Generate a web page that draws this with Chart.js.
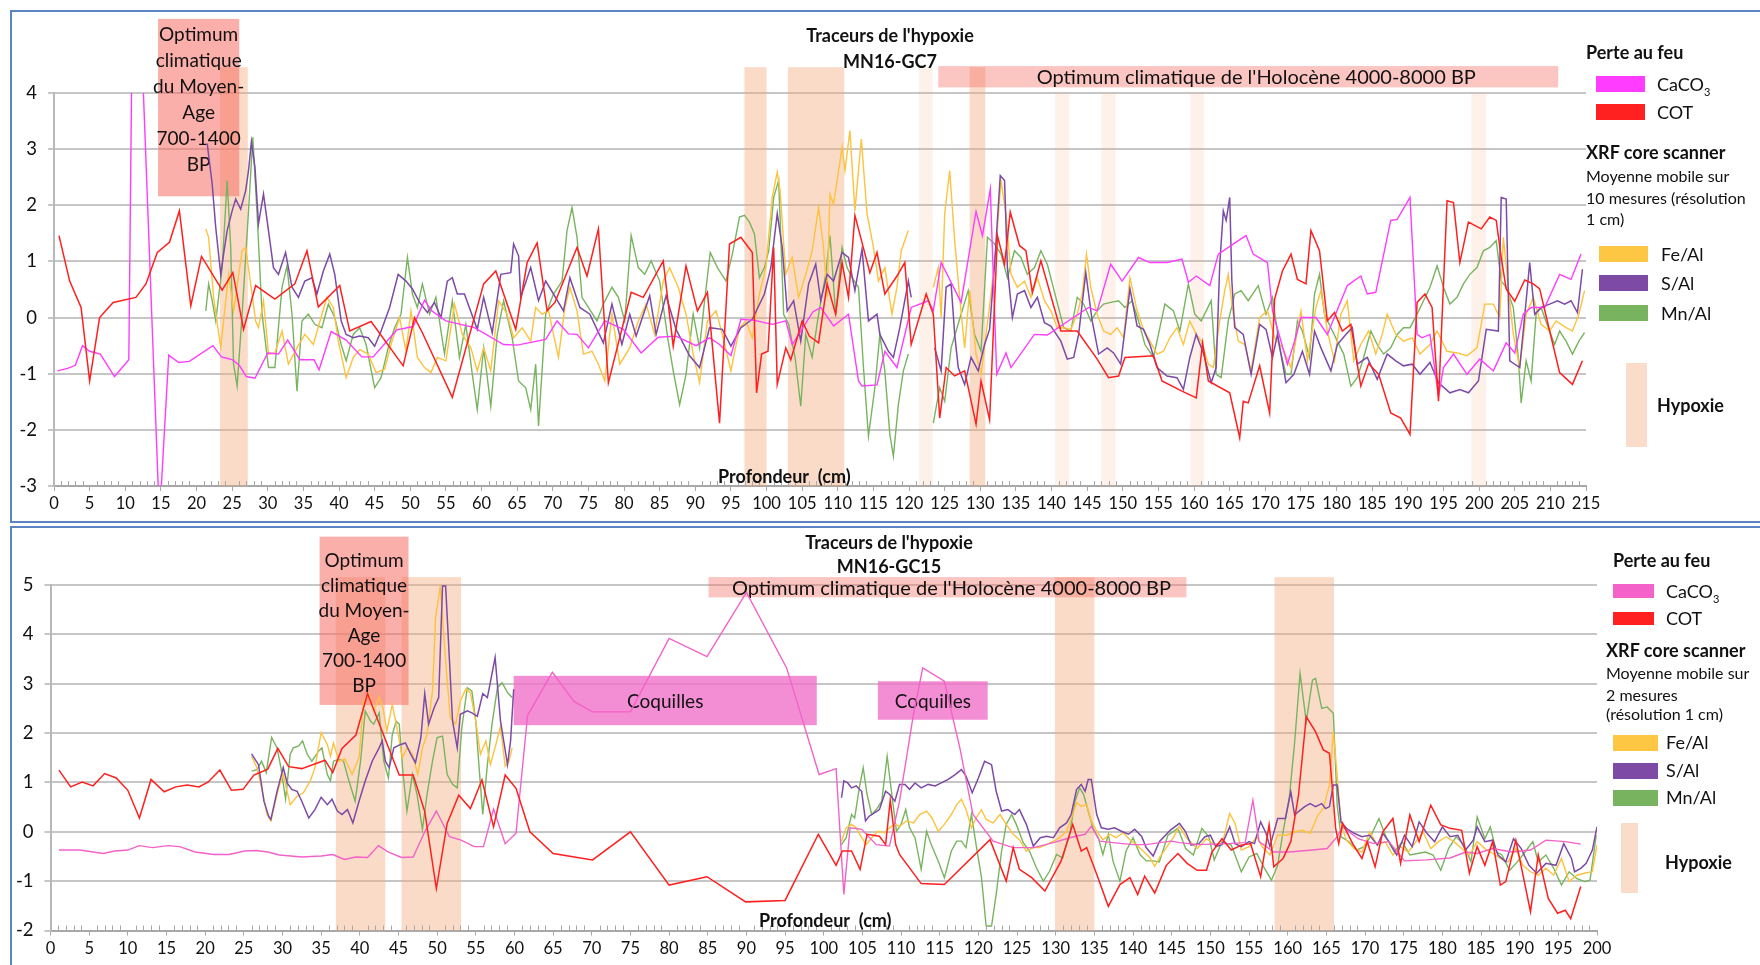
<!DOCTYPE html>
<html>
<head>
<meta charset="utf-8">
<script src="https://cdn.jsdelivr.net/npm/chart.js@4.4.1/dist/chart.umd.min.js"></script>
<style>
body{margin:0;width:1760px;height:965px;position:relative;background:#fff;font-family:Lato,'Open Sans',sans-serif;color:#111;overflow:hidden}
canvas{position:absolute;left:0}
.frame{position:absolute;border:2px solid #5a85c2;box-sizing:border-box;pointer-events:none}
.lg{position:absolute;white-space:nowrap;line-height:1;font-size:18px}
.sm{font-size:16px}
.b{font-weight:bold}
.sw{position:absolute}
sub{font-size:11px;line-height:0}
</style>
</head>
<body>
<canvas id="c1" width="1760" height="523" style="top:0"></canvas>
<canvas id="c2" width="1760" height="442" style="top:523px"></canvas>
<div class="frame" style="left:10px;top:10px;width:1760px;height:513px"></div>
<div class="frame" style="left:10px;top:526px;width:1760px;height:445px"></div>

<!-- legend GC7 -->
<div class="lg b" style="left:1586px;top:43px">Perte au feu</div>
<div class="sw" style="left:1596px;top:76px;width:49px;height:16px;background:#ff3cff"></div>
<div class="lg" style="left:1657px;top:75px">CaCO<sub>3</sub></div>
<div class="sw" style="left:1596px;top:104px;width:49px;height:16px;background:#ff2020"></div>
<div class="lg" style="left:1657px;top:103px">COT</div>
<div class="lg b" style="left:1586px;top:143px">XRF core scanner</div>
<div class="lg sm" style="left:1586px;top:168px">Moyenne mobile sur</div>
<div class="lg sm" style="left:1586px;top:190px">10 mesures (résolution</div>
<div class="lg sm" style="left:1586px;top:211px">1 cm)</div>
<div class="sw" style="left:1599px;top:246px;width:49px;height:16px;background:#fdc744"></div>
<div class="lg" style="left:1661px;top:245px">Fe/Al</div>
<div class="sw" style="left:1599px;top:275px;width:49px;height:16px;background:#7d4aa6"></div>
<div class="lg" style="left:1661px;top:274px">S/Al</div>
<div class="sw" style="left:1599px;top:305px;width:49px;height:16px;background:#78b45f"></div>
<div class="lg" style="left:1661px;top:304px">Mn/Al</div>
<div class="sw" style="left:1626px;top:363px;width:21px;height:84px;background:#fbdccb"></div>
<div class="lg b" style="left:1657px;top:396px">Hypoxie</div>

<!-- legend GC15 -->
<div class="lg b" style="left:1613px;top:551px">Perte au feu</div>
<div class="sw" style="left:1613px;top:584px;width:41px;height:14px;background:#f462c9"></div>
<div class="lg" style="left:1666px;top:582px">CaCO<sub>3</sub></div>
<div class="sw" style="left:1613px;top:612px;width:41px;height:13px;background:#ff2020"></div>
<div class="lg" style="left:1666px;top:609px">COT</div>
<div class="lg b" style="left:1606px;top:641px">XRF core scanner</div>
<div class="lg sm" style="left:1606px;top:665px">Moyenne mobile sur</div>
<div class="lg sm" style="left:1606px;top:687px">2 mesures</div>
<div class="lg sm" style="left:1606px;top:706px">(résolution 1 cm)</div>
<div class="sw" style="left:1613px;top:735px;width:45px;height:16px;background:#fdc744"></div>
<div class="lg" style="left:1666px;top:733px">Fe/Al</div>
<div class="sw" style="left:1613px;top:763px;width:45px;height:16px;background:#7d4aa6"></div>
<div class="lg" style="left:1666px;top:761px">S/Al</div>
<div class="sw" style="left:1613px;top:790px;width:45px;height:16px;background:#78b45f"></div>
<div class="lg" style="left:1666px;top:788px">Mn/Al</div>
<div class="sw" style="left:1621px;top:823px;width:17px;height:70px;background:#fbdccb"></div>
<div class="lg b" style="left:1665px;top:853px">Hypoxie</div>

<script>
// ---------- MN16-GC7 : [profondeur cm, valeur] ----------
const caco3Top = [[0.5,-0.95],[2,-0.9],[3,-0.85],[4,-0.5],[5,-0.6],[6.5,-0.65],[8.5,-1.05],[10.5,-0.75],[11.2,8],[12.4,4.5],[14.8,-3.6],[16.1,-0.67],[17.5,-0.8],[19,-0.78],[22.3,-0.5],[23.5,-0.7],[25,-0.75],[26,-0.85],[27,-1.05],[28.2,-1.08],[30,-0.63],[31.5,-0.65],[32.8,-0.4],[34.5,-0.75],[36.5,-0.75],[37.2,-0.93],[38.9,-0.25],[41,-0.4],[43.2,-0.7],[44.8,-0.7],[48.1,-0.22],[50.4,-0.16],[52,0.31],[53,0.12],[55,-0.06],[59,-0.18],[63.1,-0.48],[65,-0.49],[69,-0.39],[70.6,-0.06],[72.2,-0.29],[73.4,-0.3],[75,-0.54],[77.3,-0.06],[79.9,-0.21],[82.4,-0.63],[84.8,-0.35],[87.3,-0.33],[90.1,-0.5],[92,-0.36],[93.4,-0.48],[95,-0.68],[96.4,-0.03],[98.3,-0.05],[100.8,-0.12],[102.7,-0.06],[103.6,-0.48],[106.5,0.1],[107.6,0.18],[109.4,-0.15],[111.5,0.06],[112.9,-1.13],[113.4,-1.22],[115.5,-1.2],[116.6,-0.6],[118.3,-0.89],[120.3,0.18],[122.7,0.3],[123.4,0.12],[124.5,0.98],[127.3,0.27],[129.4,1.89],[130.3,1.46],[131.4,2.29],[132.3,-1.01],[133.6,-0.63],[134.3,-0.89],[137.6,-0.3],[139.4,-0.31],[142.7,-0.03],[145.2,0.18],[146.4,0.12],[148.3,0.95],[149.9,0.65],[152.2,1.07],[153.8,0.98],[156.2,0.98],[158.3,1.04],[159.2,0.63],[160.3,0.74],[162.2,0.57],[163.4,1.13],[166.2,1.37],[167.3,1.46],[168.3,1.13],[170.3,0.98],[171,0.12],[173.1,-0.83],[174.1,-0.42],[175,0],[177.1,0],[178.7,-0.3],[181.5,0.57],[183.4,0.74],[184.3,0.42],[185.5,0.45],[187.6,1.73],[188.5,1.75],[190.3,2.14],[191.3,-0.3],[192,-0.36],[193.1,-0.3],[194.3,-1.4],[195,-0.89],[196.4,-0.65],[198.3,-1.01],[200.1,-0.74],[202,-0.95],[203.8,-0.45],[205,-0.63],[206.2,0.06],[207.3,0.18],[209.2,0.18],[211.3,0.77],[212.9,0.68],[214.3,1.13]];
const cotTop = [[0.7,1.46],[2.2,0.65],[3.8,0.18],[5,-1.13],[6.4,0],[8.3,0.27],[11.5,0.36],[12.9,0.6],[14.5,1.16],[16.2,1.34],[17.6,1.9],[19.2,0.21],[20.7,1.09],[23.6,0.49],[25.1,0.8],[26.6,-0.21],[28.3,0.57],[31,0.33],[33.8,0.6],[35.5,1.19],[37.1,0.19],[40.1,0.57],[41.5,-0.24],[44.5,-0.07],[49,-0.86],[50.6,0],[51.7,-0.27],[55.9,-1.42],[60.3,0.6],[62,0.83],[64.8,-0.21],[66.4,0.98],[67.8,1.33],[69.2,0.12],[70.3,0.27],[73.4,1.25],[74.8,0.74],[76.4,1.58],[77.8,-1.16],[81,0.45],[82.7,0.36],[85.5,1.01],[86.9,-0.51],[88.7,0.92],[90.3,0.12],[91.7,0.45],[93.4,-1.88],[94.8,1.31],[96.4,1.43],[98,1.16],[98.6,-1.34],[99.3,-0.65],[100.2,-0.6],[101,1.25],[101.5,-1.19],[102.7,-0.54],[103.4,-0.75],[105,-0.06],[106,-0.33],[107.3,-0.45],[108.5,0.6],[109.7,0.06],[110.6,0.98],[111.5,0.36],[112.4,1.82],[114.5,0.8],[115.5,1.16],[116.6,0.42],[118.3,0.74],[119.4,0.98],[120.3,-0.48],[122.4,0.42],[123.4,0.06],[124.3,-1.79],[125.2,-0.89],[126.4,-1.04],[127.8,-0.95],[129.4,-1.9],[130.1,-1.13],[131.3,-1.82],[132.4,1.46],[133.4,0.95],[134.2,1.88],[135.5,1.28],[136.4,1.19],[137.3,0.45],[138.5,1.01],[141.3,-0.24],[143.6,-0.24],[146.4,-0.74],[148,-1.07],[149.4,-1.04],[150.3,-0.71],[154.3,-0.68],[155.5,-1.13],[158.3,-1.31],[160.3,-1.43],[161.2,-0.45],[162,-1.13],[165,-1.34],[166.4,-2.14],[166.9,-1.49],[167.6,-1.52],[169.2,-0.86],[170.6,-1.7],[171.3,0.33],[172.4,0.83],[173.6,1.13],[174.5,0.68],[175.7,0.6],[176.4,1.55],[177.6,1.19],[178.7,-0.06],[179.7,0.09],[180.8,-0.24],[182,-0.12],[183.4,-1.22],[184.5,-0.82],[185.9,-1.01],[187.6,-1.7],[189,-1.79],[190.3,-2.08],[191.3,0.27],[192.4,0.42],[193.4,0.18],[194.3,-1.49],[195.5,2.08],[196.4,2.05],[197.3,0.98],[198.5,1.7],[200.3,1.58],[201.5,1.79],[202.4,1.73],[203.1,1.07],[203.8,0.51],[205,0.29],[206.4,0.67],[207.6,0.6],[208.5,0.51],[209.9,-0.24],[211.3,-0.98],[213.1,-1.19],[214.5,-0.77]];
const feTop = [[21.3,1.58],[21.7,1.43],[22.4,0.36],[23.4,-0.54],[24.5,0.77],[25.2,0.12],[26.4,1.19],[26.9,1.25],[27.6,0.6],[28.3,-0.06],[28.7,-0.18],[29.4,0.3],[30.1,-0.65],[31,-0.63],[32,-0.24],[32.9,-0.83],[34.1,-0.54],[35.2,-0.3],[36.4,-0.48],[37.6,0.06],[38.3,0.36],[39.2,0.18],[39.9,-0.42],[41,-1.07],[42,-0.71],[42.9,-0.57],[44.1,-0.65],[45.2,-0.98],[46.4,-0.92],[47.3,-0.48],[48.5,0],[49.4,-0.6],[50.1,0.12],[51,-0.71],[52,-0.89],[52.9,-0.98],[53.8,-0.71],[55,-0.77],[56.2,0.24],[57.3,-0.3],[58.5,-0.54],[59.4,-0.95],[60.3,-0.54],[61.3,-0.95],[62.4,0.3],[63.6,0.06],[64.5,-0.36],[65.7,-0.18],[66.9,-0.42],[67.6,0.18],[68.5,0.06],[69.4,0.12],[70.8,-0.71],[71.7,0.18],[72.4,0.54],[73.4,0.12],[74.3,-0.65],[75.5,-0.6],[76.4,-0.83],[77.3,-1.13],[78.3,0.06],[79.4,-0.83],[80.8,-0.54],[82,-0.06],[83.1,0.24],[84.3,-0.3],[85.5,0.65],[86.4,0.89],[87.6,0.54],[88.7,0.06],[89.7,-0.65],[90.6,-1.16],[91.7,-0.06],[92.9,0.12],[93.8,-0.3],[95,-0.95],[96.2,-0.18],[97.1,-0.06],[98,-0.36],[99,0.42],[99.9,0.89],[100.8,2.14],[101.5,2.59],[101.9,2.26],[102.7,0.77],[103.6,1.07],[104.5,0.36],[105.5,0.77],[106.4,1.19],[107.3,1.96],[108,1.25],[108.5,0.36],[108.9,2.2],[109.4,2.02],[110.6,3.04],[111,2.62],[111.7,3.33],[112.4,1.9],[113.3,3.18],[114.1,1.85],[115,1.25],[115.7,0.65],[116.6,0.89],[117.6,0.06],[118.3,0.54],[118.9,1.19],[119.9,1.55],[121.5,null],[123.4,0.54],[124.1,0.89],[124.5,0],[125,1.85],[125.7,2.62],[126.4,1.37],[127.1,0.36],[127.8,-0.54],[128.5,0.48],[129.4,-0.65],[130.1,-1.01],[130.8,-0.3],[131.5,0.42],[132.2,1.25],[132.9,2.44],[133.6,1.85],[134.3,0.77],[135.2,0.54],[136.2,0.65],[137.1,0.36],[138,0.71],[139,0.3],[139.9,0.12],[140.8,-0.18],[141.7,-0.18],[142.7,-0.21],[143.6,0.06],[144.3,0.42],[144.9,1.13],[145.5,0.54],[146.4,0.06],[147.3,-0.24],[148.3,-0.3],[149.2,-0.18],[150.1,-0.36],[151,0.71],[152,0.12],[152.9,-0.21],[153.8,-0.42],[154.8,-0.65],[155.7,-0.6],[156.6,-0.36],[157.6,-0.18],[158.5,-0.48],[159.4,-0.06],[160.3,-0.3],[161,-0.42],[162,-0.83],[162.7,-0.89],[163.6,-0.06],[164.3,0.48],[164.8,0.77],[165.5,0.06],[166.2,-0.42],[167.1,-0.48],[168,-0.95],[169.2,0],[170.3,0.12],[171.3,-0.36],[172.4,-0.54],[173.6,-0.89],[175,0.12],[175.9,-0.77],[177.1,0.18],[177.8,0.48],[178.7,-0.24],[179.7,-0.77],[180.6,0.06],[181.5,0.3],[182.4,-0.77],[183.4,-0.48],[184.5,-0.24],[185.5,-0.65],[186.4,-0.3],[187.1,0.06],[188.3,-0.3],[189.4,-0.42],[190.6,-0.36],[191.7,-0.65],[193.1,-0.48],[194.1,-0.24],[195.5,-0.6],[196.9,-0.63],[198.3,-0.68],[199.7,-0.54],[200.8,0.24],[202,0.24],[202.9,0],[203.4,1.43],[204.1,0.54],[204.8,-0.3],[205.7,-0.89],[206.6,0.06],[207.6,0.36],[208.7,-0.12],[209.9,-0.24],[210.8,-0.06],[212.2,-0.18],[213.1,-0.24],[214,0.06],[214.8,0.48]];
const sTop = [[21.5,3.1],[22.2,2.38],[22.7,1.6],[23.4,0.77],[23.8,1.13],[24.3,1.55],[25,1.9],[25.5,2.11],[26.2,1.93],[26.9,2.26],[27.3,2.62],[27.7,3.13],[28.2,2.68],[28.7,1.67],[29.4,2.2],[30.1,1.55],[30.8,0.89],[31.5,0.77],[32.5,1.16],[33.4,0.54],[34.3,0.36],[35.2,0.65],[36.2,0.71],[36.9,0.42],[37.8,0.83],[38.7,1.13],[39.4,0.77],[40.3,-0.06],[41,-0.3],[42,-0.36],[42.9,-0.33],[44.1,-0.36],[45,-0.51],[45.9,-0.24],[47.1,0.18],[48.3,0.77],[49.4,0.65],[50.3,0.51],[51.3,0.27],[52.4,0.09],[53.4,0.27],[54.3,0],[55.2,0.65],[55.9,0.71],[56.6,0.42],[57.6,0.42],[59.4,-0.21],[60.3,0.36],[61.5,-0.27],[62.7,0.77],[64.1,0.8],[64.5,1.31],[65.2,1.1],[65.5,0.36],[66.9,0.89],[68,0.3],[69,0.65],[70.1,0.42],[71.5,0.12],[72.4,0.71],[73.8,0.18],[75.2,0.06],[77.1,-0.45],[78.3,0.24],[79.7,-0.48],[80.8,0.06],[81.7,-0.33],[83.6,0.39],[84.5,-0.3],[85.9,0.39],[87.3,-0.21],[89.2,-0.68],[90.6,-0.89],[92,-0.18],[93.8,-0.21],[95,-0.51],[96.4,-0.18],[98,-0.03],[99.7,0.42],[100.6,0.89],[101.5,1.85],[102.2,1.25],[102.9,0.12],[103.8,0.3],[104.8,-0.42],[105.9,0.6],[106.9,0.95],[107.6,0.3],[108.5,0.77],[109.4,0.65],[110.6,1.16],[111.5,1.07],[112.4,0.48],[113.4,1.22],[114.3,-0.06],[115.5,0.06],[115.9,-0.3],[117.1,-0.6],[117.8,-0.71],[118.7,-0.18],[119.9,0.65],[120.3,0.36],[121.5,null],[123.6,-0.54],[124.5,-0.95],[125.2,0.54],[125.9,0.6],[126.4,-0.3],[126.9,-0.89],[127.8,-1.19],[128.7,-0.71],[129.7,-0.95],[130.6,-0.48],[131.3,-0.21],[132,0.95],[132.8,2.53],[133.4,2.44],[133.8,0.89],[134.5,0],[135.2,0.42],[136.2,0.48],[137.1,0.18],[138,0.36],[139,-0.09],[139.9,-0.15],[141.3,-0.42],[142.2,-0.74],[143.1,-0.71],[143.8,-0.3],[144.8,0.8],[145.7,-0.06],[146.6,-0.65],[147.8,-0.54],[148.7,-0.63],[149.7,-0.83],[151,0.51],[152,-0.15],[152.9,-0.21],[153.8,-0.48],[154.8,-0.89],[156.2,-1.04],[157.6,-1.07],[158.5,-1.28],[159.4,-0.71],[160.3,-0.3],[161.3,-0.63],[162.4,-1.16],[163.1,-0.89],[163.6,0.95],[164.1,1.9],[164.5,1.73],[165,2.14],[165.3,0.65],[165.7,-0.18],[166.9,-0.3],[168,-1.01],[169.2,-0.12],[170.1,-0.21],[171,-0.71],[171.7,-0.3],[172.9,-1.16],[174,-1.01],[175.2,-0.6],[176.2,-1.01],[176.9,-0.24],[177.8,-0.54],[179.2,-0.95],[180.1,-0.48],[181.3,-0.3],[182.2,-0.18],[182.9,-0.83],[184.3,-0.71],[185.7,-1.1],[187.1,-0.65],[188.3,-0.77],[189.4,-0.86],[190.6,-0.83],[191.7,-1.01],[193.1,-0.8],[194.3,-1.16],[195.9,-1.34],[197.3,-1.28],[198.5,-1.34],[199.9,-1.13],[201,-0.21],[202.7,-0.24],[203.1,2.14],[203.8,2.11],[204.3,-0.77],[205.7,-0.89],[206.6,0.3],[207.1,0.98],[207.8,0.06],[208.7,0.18],[209.9,0.24],[211,0.3],[212,0.24],[212.9,0.3],[213.8,0.09],[214.5,0.86]];
const mnTop = [[21.3,0.12],[21.7,0.6],[22.2,0.3],[22.7,-0.06],[23.6,0.89],[24.3,2.44],[24.8,1.25],[25.2,-0.83],[25.7,-1.22],[26.4,0.06],[27.3,1.9],[27.9,3.21],[28.5,1.85],[29.2,0.06],[30.1,-0.89],[31,-0.89],[32,0.54],[32.7,0.92],[33.4,0.06],[34.1,-1.31],[34.8,-0.06],[35.7,0.06],[36.6,-0.12],[37.6,-0.18],[38.5,0.24],[39.4,0],[40.3,-0.48],[41,-0.77],[42,-0.3],[42.9,-0.18],[43.8,-0.48],[45,-1.25],[45.9,-1.07],[46.9,-0.54],[47.8,-0.18],[48.7,0.06],[49.6,1.07],[50.3,0.42],[51,0.18],[51.7,0.6],[52.7,0.06],[53.6,0.36],[54.8,-0.65],[55.9,0.3],[56.9,-0.71],[57.8,-0.12],[58.7,-1.01],[59.4,-1.64],[60.3,-0.54],[61.3,-1.58],[62.2,-0.3],[63.1,0.3],[64.3,-0.36],[65.2,-1.13],[66.2,-1.25],[66.9,-1.64],[67.6,-0.83],[68,-1.93],[69,0.06],[70.1,0.42],[71.3,0.65],[72,1.55],[72.7,1.96],[73.4,1.43],[74.1,0.36],[75,0.18],[76.2,-0.06],[77.1,0.24],[78.3,0.54],[79.2,0.36],[80.1,-0.06],[81,1.46],[82,0.89],[82.9,0.77],[83.8,1.01],[85,0.65],[86.2,-0.42],[86.9,-0.95],[87.8,-1.55],[88.7,-1.01],[89.7,0.06],[90.6,-0.54],[91.3,0.3],[92.1,1.16],[93.1,0.89],[94.3,0.65],[95.2,1.13],[96.2,1.79],[96.9,1.82],[97.6,1.7],[98.3,1.49],[99,0.71],[99.7,0.89],[100.3,1.19],[101,2.14],[101.7,2.44],[102.4,0.06],[103.1,-0.12],[104,-0.71],[104.8,-1.58],[105.5,-0.3],[106.4,-0.71],[107.3,0.06],[108.3,0.77],[108.9,1.46],[109.7,0.06],[110.6,1.25],[111.3,0.89],[112,0.71],[112.9,0.54],[113.6,-0.89],[114.3,-2.11],[115.2,-1.25],[115.9,-0.3],[116.6,-0.95],[117.3,-2.08],[117.8,-2.47],[118.5,-1.55],[119.2,-0.95],[119.9,-0.65],[121.5,null],[123.4,-1.88],[124.3,-1.25],[125,-1.49],[125.9,-0.54],[126.6,-0.24],[127.3,0.06],[128.3,0.48],[129.2,-0.3],[130.1,-0.6],[131,1.43],[132,1.31],[132.9,1.13],[133.8,0.71],[134.8,1.19],[135.7,1.07],[136.6,0.77],[137.6,0.89],[138.5,1.19],[139.4,0.95],[140.6,0.36],[141.7,-0.18],[142.7,-0.24],[143.6,0.36],[144.5,0.24],[145.5,-0.06],[146.4,0.12],[147.3,0.24],[148.3,0.27],[149.4,0.3],[150.3,0.18],[151.3,0.3],[152.2,-0.06],[153.1,-0.48],[154.3,-0.71],[155.2,-0.18],[155.9,0.24],[157.1,0.12],[158,-0.24],[159.2,0.6],[160.1,0.06],[161,-0.06],[161.7,0.12],[162.4,0.3],[163.1,-1.01],[163.8,-1.07],[164.8,-0.06],[165.7,0.42],[166.6,0.48],[167.6,0.3],[169,0.57],[170.1,0.06],[171,0.36],[172,-0.54],[172.9,-1.01],[173.6,-1.01],[174.5,-0.06],[175.2,-0.24],[176.2,-0.71],[176.9,0.42],[177.6,0.77],[178.3,0.06],[179.2,-0.18],[180.1,-0.42],[181,-0.65],[182,-1.22],[182.9,-1.07],[183.8,-0.71],[184.8,-0.24],[185.7,-0.48],[186.6,-0.65],[187.6,-0.54],[188.5,-0.3],[189.4,-0.18],[190.3,-0.18],[191.3,0.06],[192.2,0.3],[193.1,0.54],[194.1,0.92],[195,0.54],[195.9,0.24],[196.9,0.36],[197.8,0.6],[198.7,0.77],[199.7,0.89],[200.6,1.19],[201.5,1.25],[202.4,1.37],[203.1,0.65],[203.8,0.54],[204.8,0.18],[205.5,-0.71],[205.9,-1.52],[206.6,-0.77],[207.3,-1.13],[208,0.06],[208.7,0.18],[209.7,-0.18],[210.6,-0.48],[211.3,-0.24],[212.2,-0.42],[213.1,-0.65],[214,-0.42],[214.8,-0.27]];

// ---------- MN16-GC15 ----------
const caco3Bot = [[1.1,-0.37],[3.8,-0.37],[6.8,-0.44],[8.3,-0.39],[10,-0.37],[11.5,-0.28],[13.2,-0.32],[15.2,-0.28],[16.7,-0.3],[18.7,-0.41],[21.1,-0.46],[23.1,-0.46],[25.1,-0.39],[26.6,-0.38],[28.1,-0.41],[29.6,-0.47],[32.5,-0.51],[35,-0.49],[36.5,-0.46],[38,-0.56],[39.5,-0.51],[41,-0.52],[42.4,-0.28],[43.7,-0.41],[45.4,-0.52],[46.9,-0.51],[48.4,0],[49.9,0.42],[51.6,-0.1],[53.1,-0.17],[54.8,-0.3],[56,-0.3],[57.3,0.46],[58.8,-0.24],[60.2,-0.03],[61.7,2.36],[64.9,3.23],[67.7,2.64],[70.1,2.43],[75,2.43],[80,3.92],[84.9,3.55],[90,4.85],[95.2,3.32],[99.4,1.16],[101.6,1.28],[102.6,-1.27],[103.4,0.08],[104.9,0.05],[106.8,-0.26],[108.5,-0.29],[109.8,0.62],[111.6,2.38],[112.8,3.32],[115.6,3.05],[117.6,1.7],[119.3,0.35],[121.9,-0.19],[124.5,-0.32],[127.1,-0.32],[129.7,-0.22],[131.8,-0.12],[133.8,-0.05],[134.6,0.11],[135.7,-0.19],[137.4,-0.22],[140,-0.26],[141.7,-0.26],[143.4,-0.22],[145,-0.19],[146,-0.22],[148.3,-0.26],[152.2,-0.24],[154.5,-0.22],[155.5,0.64],[156.3,-0.2],[158.2,-0.41],[160.2,-0.41],[163.2,-0.37],[165.1,-0.34],[166.4,-0.1],[167.1,0.1],[169.1,-0.14],[171.1,-0.24],[173.1,-0.2],[175.1,-0.59],[178,-0.57],[181,-0.53],[183,-0.41],[184.5,-0.44],[186.5,-0.34],[189,-0.41],[191.4,-0.37],[193.4,-0.17],[195.9,-0.2],[197.9,-0.25]];
const cotBot = [[1.1,1.25],[2.6,0.91],[4.1,1.01],[5.5,0.93],[7,1.18],[8.5,1.09],[10,0.84],[11.5,0.28],[13,1.06],[14.7,0.81],[16.2,0.91],[17.7,0.95],[19.2,0.91],[20.4,1.01],[21.9,1.25],[23.4,0.84],[24.9,0.86],[26.3,1.15],[28.1,1.27],[29.4,1.69],[30.8,1.32],[32.5,1.28],[35.5,1.45],[36.5,1.2],[37.7,1.69],[39.5,1.96],[41,2.8],[42.9,2.03],[45.1,1.15],[46.9,1.15],[48.4,0.41],[49.9,-1.15],[51.3,0.17],[52.8,0.74],[54.3,0.47],[55.8,1.05],[57.3,0.1],[58.8,1.15],[60.2,0.88],[62,0],[65,-0.44],[70.1,-0.57],[75,0],[80,-1.08],[84.9,-0.91],[89.9,-1.42],[95,-1.39],[99.3,-0.05],[101.6,-0.68],[102.4,-0.39],[103.6,-0.39],[104.7,-0.76],[105.6,-0.05],[107.2,-0.09],[108,-0.26],[108.6,0.64],[109.3,-0.26],[109.8,-0.46],[112.6,-1.05],[115.6,-1.07],[121.5,-0.16],[123.6,-1],[124.5,-0.32],[125.3,-0.76],[126.9,-0.93],[128.6,-1.2],[130.7,-0.59],[132.2,0.15],[133.3,-0.39],[134,-0.32],[135.3,-0.86],[136.8,-1.51],[138.3,-1.07],[139.6,-0.93],[140.6,-1.27],[141.5,-0.9],[142.8,-1.24],[144.3,-0.68],[145.8,-0.44],[147,-0.64],[148.3,-0.78],[149.5,-0.78],[150.2,-0.41],[151.5,-0.14],[152.7,-0.37],[154,-0.27],[155.2,-0.24],[156.5,-0.91],[157.6,0.14],[158.2,-0.71],[159.4,-0.54],[160.4,-0.2],[161.4,0.74],[162.4,2.33],[163.6,2.03],[164.6,1.66],[165.4,1.59],[166.2,0.07],[166.6,-0.24],[167.1,0.17],[168.4,-0.24],[169.6,-0.54],[170.3,-0.2],[171.3,-0.71],[172.3,0],[173.6,0.27],[174.6,-0.64],[175.8,0.34],[177,-0.2],[178.5,0.54],[179.8,0.14],[181,0.07],[182.5,0.03],[183.5,-0.84],[184.5,-0.3],[185.5,-0.68],[186.5,-0.2],[187.5,-1.08],[188.2,-1.01],[189.5,-0.17],[191.4,-1.62],[192.4,-0.47],[193.7,-1.35],[194.9,-1.65],[195.9,-1.59],[196.6,-1.76],[197.9,-1.11]];
const feBot = [[26,1.53],[26.7,1.3],[27.3,0.89],[28,0.35],[28.5,0.22],[29.5,0.89],[30.1,1.16],[31,0.55],[31.9,0.72],[32.7,0.79],[33.6,1.03],[34.2,1.3],[35,2.01],[35.8,1.77],[36.2,1.53],[36.6,1.8],[37.3,1.43],[38.1,1.47],[39,1.16],[39.9,1.5],[40.5,2.65],[41.2,2.78],[41.8,2.45],[42.5,2.72],[43,2.51],[43.5,2.04],[44.2,2.58],[44.8,2.11],[45.5,1.5],[46.1,1.7],[46.8,1.57],[47.5,1.16],[48.1,1.7],[48.7,1.97],[49.4,2.85],[49.8,4.34],[50.4,4.98],[51.1,3.46],[51.7,2.31],[52.4,2.18],[53,2.65],[53.7,2.89],[54.3,2.82],[55,2.24],[55.6,1.57],[56.3,1.84],[56.9,1.36],[57.6,1.77],[58.2,2.14],[58.8,1.33],[59.3,1.43],[59.7,1.7],[80,null],[102.3,-0.19],[102.9,0.08],[103.6,0.15],[104.2,0.08],[104.9,-0.12],[105.5,-0.26],[106.2,-0.12],[107,0.01],[107.9,-0.02],[108.5,0.08],[109.2,0.15],[109.8,0.11],[110.7,0.22],[111.6,0.18],[112.4,0.35],[113.3,0.42],[114,0.28],[114.8,0.01],[115.6,0.15],[116.5,0.35],[117.2,0.55],[117.8,0.66],[118.4,0.45],[119.1,0.08],[119.7,0.28],[120.4,0.45],[121,0.25],[121.9,0.18],[122.8,0.35],[123.6,0.15],[124.5,-0.05],[125.3,-0.16],[126.2,-0.39],[127.1,-0.32],[127.9,-0.32],[128.8,-0.26],[129.7,-0.19],[130.5,-0.12],[131.4,0.01],[132.2,0.35],[132.7,0.59],[133.3,0.52],[134,0.55],[134.6,0.22],[135.3,0.01],[136.1,-0.16],[137,-0.05],[137.8,-0.12],[138.7,-0.02],[139.6,-0.16],[140.4,-0.26],[141.3,-0.39],[142.2,-0.53],[142.8,-0.7],[143.4,-0.53],[144.3,-0.32],[145.2,-0.12],[146,0.11],[146.9,-0.12],[147.8,-0.26],[148.3,-0.34],[149.5,-0.14],[150.5,-0.26],[151.5,-0.26],[152.5,0.37],[153.2,0.17],[154,-0.37],[155,-0.3],[156,-0.1],[156.7,-0.3],[157.7,-0.47],[158.7,-0.07],[159.9,-0.07],[160.9,0],[161.9,0.03],[162.9,-0.03],[163.9,0.34],[164.6,0.47],[165.4,0.95],[165.9,2.03],[166.4,1.15],[166.9,0.14],[167.6,-0.17],[168.6,-0.34],[169.6,-0.41],[170.6,0],[171.6,-0.27],[172.6,-0.2],[173.6,-0.47],[174.6,-0.3],[175.6,-0.41],[176.6,-0.2],[177.5,0],[178.5,-0.34],[179.5,-0.2],[180.5,-0.1],[181.5,-0.2],[182.5,-0.34],[183.5,-0.47],[184.5,-0.2],[185.5,-0.34],[186.5,-0.44],[187.5,-0.54],[188.5,-0.61],[189.5,-0.34],[190.4,-0.68],[191.4,-0.81],[192.4,-0.88],[193.4,-0.74],[194.4,-0.88],[195.4,-0.54],[196.4,-1.01],[197.4,-0.88],[198.4,-0.84],[199.4,-0.81],[200,-0.27]];
const sBot = [[26,1.58],[26.9,1.36],[27.6,0.62],[28.2,0.32],[28.5,0.25],[29.3,0.82],[30.1,1.3],[30.6,0.99],[31.2,0.86],[31.9,0.82],[32.5,0.62],[33.4,0.28],[34.2,0.45],[35,0.7],[35.8,0.55],[36.4,0.66],[37.1,0.42],[37.7,0.35],[38.4,0.45],[39.1,0.18],[39.9,0.62],[40.7,1.03],[41.6,1.43],[42.5,1.7],[42.9,1.84],[43.3,1.43],[43.8,1.3],[44.4,1.7],[45.3,1.77],[45.9,1.8],[46.6,1.57],[47.2,1.4],[47.9,1.91],[48.4,2.8],[48.9,2.18],[49.6,2.51],[50.2,2.72],[50.7,4.98],[51.1,4.98],[52,2.24],[52.6,1.7],[53,2.38],[53.9,2.45],[54.5,2.41],[55.2,2.34],[55.9,2.8],[56.5,2.72],[57.5,3.53],[58.2,2.24],[59.1,1.36],[59.5,1.84],[59.9,2.89],[80,null],[102.3,0.69],[102.6,1.03],[103.1,0.99],[103.6,0.89],[104.2,0.93],[104.9,0.82],[105.4,0.22],[105.9,0.32],[106.6,0.39],[107.2,0.45],[108,0.82],[108.5,0.76],[109.2,0.62],[109.8,0.96],[110.5,0.96],[111.1,0.86],[111.8,0.99],[112.6,0.89],[113.5,0.96],[114.4,0.93],[115.2,0.99],[116.1,1.06],[117,1.16],[117.8,1.26],[118.4,1.13],[119.2,0.79],[120,1.09],[120.8,1.43],[121.7,1.36],[122.3,0.82],[123,0.42],[123.8,0.45],[124.7,0.35],[125.3,0.45],[126.2,0.15],[127.1,-0.29],[128,-0.12],[128.8,-0.09],[129.7,-0.12],[130.5,0.08],[131.4,0.18],[132,0.35],[132.7,0.86],[133.3,0.96],[133.8,0.82],[134.2,1.06],[134.6,1.06],[135.3,0.35],[135.9,0.08],[136.8,0.05],[137.6,0.08],[138.5,0.01],[139.4,-0.05],[140.2,0.05],[141.1,-0.09],[141.7,-0.32],[142.6,-0.49],[143.4,-0.2],[144.8,0.03],[146,0.17],[146.8,0],[147.5,-0.27],[148.5,-0.24],[149.3,-0.1],[150,-0.07],[150.7,-0.3],[151.5,-0.26],[152.5,0.1],[153.2,-0.24],[154,-0.3],[155,-0.2],[155.7,-0.24],[156.5,0.2],[157.2,-0.03],[157.7,-0.3],[158.7,0.27],[159.7,0.27],[160.4,0.81],[160.9,0.34],[161.4,0.41],[162.2,0.51],[162.9,0.57],[163.6,0.51],[164.4,0.57],[164.9,0.47],[165.4,0.51],[165.9,0.95],[166.4,0.95],[166.9,0.2],[167.6,0.07],[168.6,-0.03],[169.6,-0.1],[170.6,-0.07],[171.6,-0.27],[172.3,-0.03],[173.1,-0.2],[174.1,-0.47],[175.1,-0.07],[176.1,-0.3],[177,0.2],[178,-0.03],[179,-0.2],[180,0.1],[181,-0.1],[182,-0.07],[183,-0.37],[184,-0.17],[184.5,0.1],[185.5,-0.2],[186.5,-0.17],[187.2,-0.47],[188.2,-0.61],[189.2,-0.14],[190.2,-0.34],[191.2,-0.68],[192.2,-0.84],[193.4,-0.64],[194.7,-0.68],[195.7,-0.24],[196.7,-0.54],[197.1,-0.81],[197.9,-0.74],[198.6,-0.64],[199.4,-0.37],[200,0.1]];
const mnBot = [[26,1.23],[26.7,1.26],[27.3,1.43],[27.9,1.2],[28.6,1.91],[29.3,1.7],[29.8,1.3],[30.4,0.66],[31,1.57],[31.4,1.7],[32.1,1.74],[32.6,1.84],[33.2,1.57],[33.8,1.43],[34.7,1.64],[35.1,1.7],[35.8,1.16],[36.2,1.03],[36.6,1.43],[37.3,1.47],[37.9,1.43],[38.6,1.03],[39.4,0.62],[40.1,1.43],[40.7,2.45],[41.4,2.24],[41.8,2.18],[42.5,2.41],[43.1,1.43],[43.7,1.09],[44.2,1.97],[44.7,2.24],[45.1,2.18],[45.6,1.16],[46.1,0.42],[46.8,1.16],[47.4,0.76],[48.1,0.05],[48.7,0.76],[49.4,1.43],[50,1.91],[50.7,1.94],[51.3,1.16],[52,0.96],[52.6,0.89],[53.2,2.11],[53.9,2.92],[54.5,2.85],[55,2.24],[55.4,1.36],[55.9,0.35],[56.5,1.36],[57.1,2.18],[57.8,2.92],[58.4,3.02],[59.1,2.82],[59.7,2.72],[80,null],[102.3,-0.26],[102.9,-0.12],[103.6,0.35],[104,0.28],[104.6,0.89],[105.1,1.3],[105.6,0.76],[106.2,0.35],[106.8,0.45],[107.5,0.62],[108.2,1.53],[108.8,0.76],[109.4,0.01],[110,0.15],[110.6,0.45],[111.1,0.08],[111.8,-0.12],[112.6,-0.76],[113.3,0.01],[113.9,-0.26],[114.8,-0.59],[115.6,-0.93],[116.5,-0.39],[117.2,-0.19],[117.8,-0.19],[118.4,-0.32],[119.1,0.35],[119.7,-0.26],[120.4,-0.93],[121,-1.91],[121.7,-1.91],[122.3,-1.27],[123,-0.39],[123.6,0.15],[124.3,0.35],[124.9,0.15],[125.8,-0.22],[126.6,-0.39],[127.5,-0.73],[128.4,-1],[129.2,-0.8],[130.1,-0.46],[130.9,-0.53],[131.8,-0.05],[132.5,0.62],[133.1,0.89],[133.6,0.76],[134.2,0.42],[134.8,0.08],[135.5,-0.12],[136.1,-0.46],[136.8,-0.05],[137.4,-0.59],[138.3,-1],[139.1,-0.39],[140,-0.12],[140.9,-0.46],[141.7,-0.59],[142.6,-0.59],[143.4,-0.61],[144.5,-0.07],[145.8,0.07],[146.8,-0.34],[147.8,-0.47],[148.9,0.07],[149.8,-0.1],[150.5,-0.57],[151.5,-0.2],[152.7,-0.27],[154,-0.81],[155,-0.51],[156,-0.44],[157,-0.74],[157.9,-0.98],[158.7,-0.68],[159.4,0],[160.2,0.68],[160.9,1.82],[161.6,3.21],[162.4,2.23],[163.2,3.07],[163.6,3.11],[164.4,2.5],[165.1,2.53],[165.9,2.4],[166.4,0.54],[166.9,-0.1],[167.9,-0.2],[168.9,-0.37],[169.9,-0.3],[170.8,-0.07],[171.8,0.27],[172.8,-0.14],[173.8,-0.41],[174.8,-0.2],[175.8,-0.47],[176.8,-0.44],[177.8,-0.41],[178.8,-0.47],[179.8,-0.78],[180.8,-0.34],[181.8,-0.1],[182.8,-0.27],[183.7,-0.61],[184.5,0.3],[185.5,-0.14],[186.2,0.1],[187,-0.41],[187.7,-0.47],[188.7,-0.78],[189.7,-0.61],[190.7,-0.41],[191.7,-0.2],[192.4,-0.61],[193.4,-0.47],[194.4,-0.74],[195.4,-1.08],[196.4,-0.81],[197.4,-0.95],[198.4,-1.01],[199.1,-0.98],[199.9,-0.07]];

// zones (profondeur cm) and their vertical extent (axis units)
const hypoxiaTop = [[23.3,27.2],[96.9,100.0],[103.0,110.9],[128.5,130.7]];
const hypoxiaTopFaint = [[121.4,123.3]];
const hypoxiaTopFaintLow = [[140.5,142.5],[147.0,149.0],[159.5,161.4],[198.9,201.0]];
const hypoxiaBot = [[36.9,43.3],[45.4,53.1],[129.9,135.0],[158.3,166.0]];
const moyenAgeLines = ['Optimum','climatique','du Moyen-','Age','700-1400','BP'];
const holoceneText = "Optimum climatique de l'Holocène 4000-8000 BP";

const HYPO = 'rgba(244,170,125,0.42)', HYPO_FAINT = 'rgba(244,170,125,0.16)';
const MA = 'rgba(245,110,100,0.55)', HOLO = 'rgba(245,110,100,0.4)', COQ = 'rgba(240,110,200,0.78)';

const boxesTop = [
  ...hypoxiaTop.map(r => ({x0:r[0], x1:r[1], y0:-3, y1:4.46, color:HYPO})),
  ...hypoxiaTopFaint.map(r => ({x0:r[0], x1:r[1], y0:-3, y1:4.46, color:HYPO_FAINT})),
  ...hypoxiaTopFaintLow.map(r => ({x0:r[0], x1:r[1], y0:-3, y1:4, color:HYPO_FAINT})),
  {x0:14.6, x1:26.0, y0:2.16, y1:5.32, color:MA, lines:moyenAgeLines, first:16, step:26},
  {x0:124.1, x1:211.1, y0:4.10, y1:4.48, color:HOLO, text:holoceneText, dx:8}
];
const boxesBot = [
  ...hypoxiaBot.map(r => ({x0:r[0], x1:r[1], y0:-2, y1:5.16, color:HYPO})),
  {x0:34.8, x1:46.3, y0:2.57, y1:5.98, color:MA, lines:moyenAgeLines, first:24.5, step:25},
  {x0:85.1, x1:146.9, y0:4.75, y1:5.16, color:HOLO, text:holoceneText, dx:4},
  {x0:59.9, x1:99.1, y0:2.16, y1:3.16, color:COQ, text:'Coquilles'},
  {x0:107.0, x1:121.2, y0:2.27, y1:3.05, color:COQ, text:'Coquilles'}
];

Chart.defaults.font.family = "Lato, 'Open Sans', sans-serif";
Chart.defaults.color = '#111';

const zones = {
  id: 'zones',
  beforeDatasetsDraw(chart, args, o) {
    const ctx = chart.ctx, xs = chart.scales.x, ys = chart.scales.y;
    ctx.save();
    o.items.forEach(b => {
      const x0 = xs.getPixelForValue(b.x0), x1 = xs.getPixelForValue(b.x1);
      const yt = ys.getPixelForValue(b.y1), yb = ys.getPixelForValue(b.y0);
      ctx.fillStyle = b.color;
      ctx.fillRect(x0, yt, x1 - x0, yb - yt);
    });
    ctx.fillStyle = '#111';
    ctx.textAlign = 'center';
    ctx.textBaseline = 'middle';
    o.items.forEach(b => {
      const cx = (xs.getPixelForValue(b.x0) + xs.getPixelForValue(b.x1)) / 2 + (b.dx || 0);
      const yt = ys.getPixelForValue(b.y1), yb = ys.getPixelForValue(b.y0);
      ctx.font = (b.text === holoceneText ? '20px' : '19px') + " Lato, 'Open Sans', sans-serif";
      if (b.lines) b.lines.forEach((t, i) => ctx.fillText(t, cx, yt + b.first + i * b.step));
      if (b.text) ctx.fillText(b.text, cx, (yt + yb) / 2 + 1);
    });
    ctx.restore();
  },
  afterDraw(chart, args, o) {
    const ctx = chart.ctx, xs = chart.scales.x, a = chart.chartArea;
    ctx.save();
    // minor ticks every cm
    ctx.strokeStyle = '#a8a8a8';
    ctx.lineWidth = 1;
    ctx.beginPath();
    for (let v = xs.min; v <= xs.max; v++) {
      if (v % 5 === 0) continue;
      const px = Math.round(xs.getPixelForValue(v)) + 0.5;
      ctx.moveTo(px, a.bottom - 5);
      ctx.lineTo(px, a.bottom);
    }
    ctx.stroke();
    ctx.fillStyle = '#111';
    ctx.textAlign = 'center';
    ctx.textBaseline = 'middle';
    ctx.font = "bold 18px Lato, 'Open Sans', sans-serif";
    ctx.fillText("Traceurs de l'hypoxie", o.titleX, o.titleY);
    ctx.fillText(o.core, o.titleX, o.titleY + o.titleGap);
    ctx.fillText('Profondeur  (cm)', xs.getPixelForValue(o.axisAt), a.bottom - 9);
    ctx.restore();
  }
};

function series(label, pairs, color, w) {
  return {label, data: pairs.map(p => ({x: p[0], y: p[1]})), borderColor: color, backgroundColor: color,
    borderWidth: w || 1.5, pointRadius: 0, tension: 0, spanGaps: false, fill: false};
}

function build(id, cfg) {
  return new Chart(document.getElementById(id), {
    type: 'line',
    data: {datasets: cfg.datasets},
    options: {
      responsive: false, animation: false, events: [],
      layout: {padding: {top: cfg.top, right: cfg.right, left: 0, bottom: 0}},
      plugins: {legend: {display: false}, tooltip: {enabled: false}, zones: cfg.zones},
      scales: {
        x: {type: 'linear', min: 0, max: cfg.xmax, afterFit: s => { s.height = cfg.xh; },
          ticks: {stepSize: 5, autoSkip: false, maxRotation: 0, font: {size: 16.5}, padding: 3},
          grid: {drawOnChartArea: false, color: '#a8a8a8', tickLength: 5},
          border: {color: '#a8a8a8', width: 2}},
        y: {min: cfg.ymin, max: cfg.ymax, afterFit: s => { s.width = cfg.yw; },
          ticks: {stepSize: 1, font: {size: 18.5}, padding: 11},
          grid: {color: '#c6c6c6', lineWidth: 2, tickLength: 6},
          border: {color: '#b8b8b8', width: 2}}
      }
    },
    plugins: [zones]
  });
}

build('c1', {
  datasets: [
    series('COT', cotTop, '#ff1f1f', 1.5),
    series('CaCO3', caco3Top, '#ff3cff', 1.4),
    series('S/Al', sTop, '#7d4aa6', 1.5),
    series('Fe/Al', feTop, '#fdc23e', 1.4),
    series('Mn/Al', mnTop, '#78b45f', 1.4)
  ],
  top: 93, right: 174, xh: 37, yw: 54, xmax: 215, ymin: -3, ymax: 4,
  zones: {items: boxesTop, core: 'MN16-GC7', titleX: 890, titleY: 36, titleGap: 26, axisAt: 102.5}
});

build('c2', {
  datasets: [
    series('COT', cotBot, '#ff1f1f', 1.5),
    series('CaCO3', caco3Bot, '#f462c9', 1.4),
    series('S/Al', sBot, '#7d4aa6', 1.5),
    series('Fe/Al', feBot, '#fdc23e', 1.4),
    series('Mn/Al', mnBot, '#78b45f', 1.4)
  ],
  top: 62, right: 163, xh: 34.5, yw: 50.5, xmax: 200, ymin: -2, ymax: 5,
  zones: {items: boxesBot, core: 'MN16-GC15', titleX: 889, titleY: 20, titleGap: 24, axisAt: 100.2}
});
</script>
</body>
</html>
